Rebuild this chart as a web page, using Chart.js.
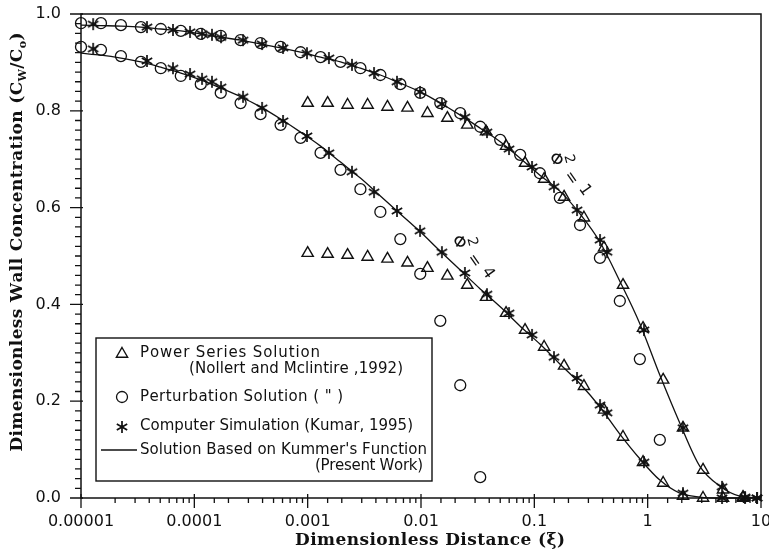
<!DOCTYPE html>
<html>
<head>
<meta charset="utf-8">
<script src="https://cdn.jsdelivr.net/npm/chart.js@4.4.1/dist/chart.umd.min.js"></script>
<style>
  html, body { margin: 0; padding: 0; background: #fff; }
  #wrap { width: 769px; height: 553px; }
</style>
</head>
<body>
<div id="wrap"><canvas id="wallChart"></canvas></div>
<script>
// ---- values ----
// x grid used by the Kummer curves and the perturbation points
const xiGrid = [1e-5, 1.5e-5, 2.25e-5, 3.38e-5, 5.06e-5, 7.6e-5, 1.14e-4, 1.71e-4, 2.56e-4, 3.84e-4,
  5.77e-4, 8.65e-4, 1.3e-3, 1.95e-3, 2.92e-3, 4.38e-3, 6.57e-3, 9.85e-3, 0.0148, 0.0222,
  0.0333, 0.05, 0.075, 0.112, 0.168, 0.253, 0.379, 0.568, 0.853, 1.28,
  1.92, 2.88, 4.32, 6.49, 10];

// Solution based on Kummer's function (phi^2 = 1 and phi^2 = 4)
const kummer1 = [0.977, 0.976, 0.975, 0.973, 0.969, 0.965, 0.959, 0.952, 0.946, 0.938,
  0.930, 0.921, 0.911, 0.901, 0.888, 0.874, 0.857, 0.839, 0.816, 0.791,
  0.764, 0.736, 0.702, 0.667, 0.634, 0.587, 0.529, 0.448, 0.360, 0.254,
  0.155, 0.066, 0.025, 0.004, 0.0];
const kummer4 = [0.919, 0.915, 0.909, 0.901, 0.890, 0.878, 0.864, 0.847, 0.829, 0.808,
  0.783, 0.756, 0.727, 0.694, 0.661, 0.624, 0.587, 0.550, 0.510, 0.471,
  0.432, 0.395, 0.355, 0.318, 0.277, 0.236, 0.188, 0.132, 0.081, 0.037,
  0.010, 0.002, 0.0, 0.0, 0.0];

// Perturbation solution (first 30 / 21 grid points)
const pert1 = [0.981, 0.981, 0.977, 0.973, 0.969, 0.965, 0.959, 0.955, 0.946, 0.940,
  0.932, 0.921, 0.911, 0.901, 0.888, 0.874, 0.855, 0.837, 0.816, 0.795,
  0.767, 0.740, 0.709, 0.671, 0.620, 0.564, 0.496, 0.407, 0.287, 0.120];
const pert4 = [0.932, 0.926, 0.913, 0.901, 0.888, 0.872, 0.855, 0.837, 0.816, 0.793,
  0.771, 0.744, 0.713, 0.678, 0.638, 0.591, 0.535, 0.463, 0.366, 0.233, 0.043];

// Power series solution (Nollert and McIntire, 1992)
const xiSeries = [0.001, 0.0015, 0.00225, 0.00338, 0.00506, 0.0076, 0.0114, 0.0171, 0.0256, 0.0375,
  0.0563, 0.0828, 0.122, 0.183, 0.274, 0.412, 0.606, 0.91, 1.37, 2.05, 3.08, 4.62, 6.94];
const series1 = [0.816, 0.816, 0.812, 0.812, 0.808, 0.806, 0.795, 0.785, 0.771, 0.757,
  0.727, 0.692, 0.659, 0.622, 0.579, 0.517, 0.440, 0.351, 0.244, 0.145, 0.058, 0.017, 0.002];
const series4 = [0.506, 0.504, 0.502, 0.498, 0.494, 0.486, 0.475, 0.459, 0.440, 0.415,
  0.382, 0.347, 0.312, 0.273, 0.231, 0.182, 0.126, 0.074, 0.031, 0.004, 0.0, 0.0, 0.0];

// Computer simulation (Kumar, 1995)
const xiSim = [1.28e-5, 3.82e-5, 6.48e-5, 9.16e-5, 1.17e-4, 1.43e-4, 1.72e-4, 2.69e-4, 3.96e-4, 6.06e-4,
  9.86e-4, 1.54e-3, 2.46e-3, 3.85e-3, 6.14e-3, 9.8e-3, 0.0153, 0.0244, 0.0382, 0.0598,
  0.0954, 0.149, 0.238, 0.38, 0.438, 0.928, 2.05, 4.53, 7.23, 9.23];
const sim1 = [0.979, 0.973, 0.967, 0.963, 0.959, 0.957, 0.952, 0.946, 0.938, 0.930,
  0.919, 0.909, 0.895, 0.878, 0.860, 0.839, 0.814, 0.787, 0.756, 0.721,
  0.684, 0.643, 0.595, 0.533, 0.508, 0.347, 0.145, 0.023, 0.002, 0.0];
const sim4 = [0.928, 0.903, 0.888, 0.876, 0.866, 0.860, 0.849, 0.829, 0.806, 0.779,
  0.748, 0.713, 0.674, 0.632, 0.593, 0.552, 0.508, 0.465, 0.421, 0.382,
  0.337, 0.291, 0.248, 0.192, 0.176, 0.074, 0.010, 0.0, 0.0, 0.0];

const xTickLabels = ['0.00001', '0.0001', '0.001', '0.01', '0.1', '1', '10'];
const yTickLabels = ['0.0', '0.2', '0.4', '0.6', '0.8', '1.0'];

// curve labels, anchored in data coordinates
const phiLabels = [
  { xi: 0.155, c: 0.698, value: '1' },
  { xi: 0.0216, c: 0.527, value: '4' }
];

const ink = '#111';
const toPoints = (xs, ys) => ys.map((y, i) => ({ x: xs[i], y: y }));

// six armed asterisk used for the simulation points
const makeStar = (size, lw) => {
  const c = document.createElement('canvas');
  c.width = c.height = size + 4;
  const g = c.getContext('2d');
  const m = c.width / 2, r = size / 2;
  g.strokeStyle = ink;
  g.lineWidth = lw;
  g.beginPath();
  for (let i = 0; i < 3; i++) {
    const a = Math.PI / 2 + i * Math.PI / 3;
    g.moveTo(m + r * Math.cos(a), m + r * Math.sin(a));
    g.lineTo(m - r * Math.cos(a), m - r * Math.sin(a));
  }
  g.stroke();
  return c;
};
const starImg = makeStar(12, 1.7);

const isDecade = v => {
  const e = Math.log10(v);
  return Math.abs(e - Math.round(e)) < 1e-6;
};

// draw a string letter by letter so it fills a given width
const drawFitted = (ctx, str, x, y, width, align) => {
  const chars = [...str];
  const widths = chars.map(ch => ctx.measureText(ch).width);
  const total = widths.reduce((a, b) => a + b, 0);
  const gap = chars.length > 1 ? (width - total) / (chars.length - 1) : 0;
  let cx = align === 'right' ? x - width : align === 'center' ? x - width / 2 : x;
  ctx.textAlign = 'left';
  chars.forEach((ch, i) => { ctx.fillText(ch, cx, y); cx += widths[i] + gap; });
};

const decorations = {
  id: 'decorations',
  afterDraw(chart) {
    const ctx = chart.ctx;
    const area = chart.chartArea;
    const xs = chart.scales.x, ys = chart.scales.y;
    ctx.save();
    ctx.strokeStyle = ink;
    ctx.fillStyle = ink;

    // frame
    ctx.lineWidth = 1.5;
    ctx.strokeRect(area.left, area.top, area.right - area.left, area.bottom - area.top);

    // tick marks
    ctx.lineWidth = 1.3;
    ctx.beginPath();
    xs.ticks.forEach(t => {
      const p = xs.getPixelForValue(t.value);
      const major = isDecade(t.value);
      ctx.moveTo(p, area.bottom - (major ? 4 : 0));
      ctx.lineTo(p, area.bottom + (major ? 10 : 5));
    });
    ys.ticks.forEach((t, i) => {
      const p = ys.getPixelForValue(t.value);
      const major = i % 10 === 0;
      ctx.moveTo(area.left + (major ? 2 : 0), p);
      ctx.lineTo(area.left - (major ? 11 : 6), p);
    });
    ctx.stroke();

    // axis titles
    ctx.textBaseline = 'middle';
    ctx.font = 'bold 17px "DejaVu Serif"';
    drawFitted(ctx, 'Dimensionless Distance (\u03BE)', 430, 541, 270, 'center');

    const pieces = [
      { t: 'Dimensionless Wall Concentration (C', sub: false },
      { t: 'W', sub: true },
      { t: '/C', sub: false },
      { t: 'o', sub: true },
      { t: ')', sub: false }
    ];
    const mainFont = 'bold 17px "DejaVu Serif"', subFont = 'bold 11px "DejaVu Serif"';
    let natural = 0, count = 0;
    pieces.forEach(pc => {
      ctx.font = pc.sub ? subFont : mainFont;
      [...pc.t].forEach(ch => { natural += ctx.measureText(ch).width; count++; });
    });
    const yGap = (419 - natural) / (count - 1);
    ctx.save();
    ctx.translate(18, 242);
    ctx.rotate(-Math.PI / 2);
    let cx = -419 / 2;
    ctx.textAlign = 'left';
    pieces.forEach(pc => {
      ctx.font = pc.sub ? subFont : mainFont;
      [...pc.t].forEach(ch => {
        ctx.fillText(ch, cx, pc.sub ? 5 : 0);
        cx += ctx.measureText(ch).width + yGap;
      });
    });
    ctx.restore();

    // phi^2 labels next to the curves
    phiLabels.forEach(lb => {
      const px = xs.getPixelForValue(lb.xi);
      const py = ys.getPixelForValue(lb.c);
      const glyph = (str, dx, dy, ang, font) => {
        ctx.save();
        ctx.translate(px + dx, py + dy);
        ctx.rotate(ang * Math.PI / 180);
        ctx.font = font;
        ctx.textAlign = 'center';
        ctx.textBaseline = 'middle';
        ctx.fillText(str, 0, 0);
        ctx.restore();
      };
      glyph('\u03A6', 0, 0, 35, '17px "DejaVu Sans"');
      glyph('2', 13, -1, 75, '14px "DejaVu Sans"');
      glyph('=', 15, 18, 55, '16px "DejaVu Sans"');
      glyph(lb.value, 29, 30, 55, '16px "DejaVu Sans"');
    });

    // legend box
    ctx.lineWidth = 1.4;
    ctx.strokeRect(96, 338, 336, 143);
    ctx.font = '15px "DejaVu Sans"';
    ctx.textBaseline = 'middle';
    drawFitted(ctx, 'Power Series Solution', 140, 353, 180, 'left');
    drawFitted(ctx, '(Nollert and Mclintire ,1992)', 189, 369, 214, 'left');
    drawFitted(ctx, 'Perturbation Solution ( " )', 140, 397, 203, 'left');
    drawFitted(ctx, 'Computer Simulation (Kumar, 1995)', 140, 426, 273, 'left');
    drawFitted(ctx, "Solution Based on Kummer's Function", 140, 450, 287, 'left');
    drawFitted(ctx, '(Present Work)', 423, 466, 108, 'right');

    ctx.lineWidth = 1.4;
    ctx.beginPath();
    const tr = 6.5, tx = 122, ty = 354;
    for (let k = 0; k < 3; k++) {
      const a = -Math.PI / 2 + k * 2 * Math.PI / 3;
      const vx = tx + tr * Math.cos(a), vy = ty + tr * Math.sin(a);
      if (k === 0) ctx.moveTo(vx, vy); else ctx.lineTo(vx, vy);
    }
    ctx.closePath();
    ctx.stroke();
    ctx.lineWidth = 1.3;
    ctx.beginPath();
    ctx.arc(122, 397, 5.5, 0, Math.PI * 2);
    ctx.stroke();
    ctx.drawImage(starImg, 122 - starImg.width / 2, 427 - starImg.height / 2);
    ctx.beginPath();
    ctx.moveTo(101, 450);
    ctx.lineTo(137, 450);
    ctx.stroke();

    ctx.restore();
  }
};

const lineStyle = {
  showLine: true, pointRadius: 0, borderColor: ink, borderWidth: 1.3,
  cubicInterpolationMode: 'monotone', clip: false
};
const circleStyle = {
  pointStyle: 'circle', pointRadius: 5.5, borderColor: ink, borderWidth: 1.3,
  backgroundColor: 'rgba(0,0,0,0)', clip: false
};
const triStyle = {
  pointStyle: 'triangle', pointRadius: 6.5, borderColor: ink, borderWidth: 1.4,
  backgroundColor: 'rgba(0,0,0,0)', clip: false
};
const starStyle = { pointStyle: starImg, pointRadius: 6, borderColor: ink, clip: false };

const ctx = document.getElementById('wallChart').getContext('2d');
new Chart(ctx, {
  type: 'scatter',
  data: {
    datasets: [
      { label: 'Kummer phi2=1', data: toPoints(xiGrid, kummer1), ...lineStyle },
      { label: 'Kummer phi2=4', data: toPoints(xiGrid, kummer4), ...lineStyle },
      { label: 'Perturbation phi2=1', data: toPoints(xiGrid, pert1), ...circleStyle },
      { label: 'Perturbation phi2=4', data: toPoints(xiGrid, pert4), ...circleStyle },
      { label: 'Power series phi2=1', data: toPoints(xiSeries, series1), ...triStyle },
      { label: 'Power series phi2=4', data: toPoints(xiSeries, series4), ...triStyle },
      { label: 'Simulation phi2=1', data: toPoints(xiSim, sim1), ...starStyle },
      { label: 'Simulation phi2=4', data: toPoints(xiSim, sim4), ...starStyle }
    ]
  },
  options: {
    responsive: true,
    maintainAspectRatio: false,
    animation: false,
    devicePixelRatio: 1,
    layout: { padding: { top: 14, right: 8, left: 0, bottom: 0 } },
    plugins: { legend: { display: false }, tooltip: { enabled: false } },
    scales: {
      x: {
        type: 'logarithmic',
        min: 1e-5,
        max: 10,
        grid: { display: false, drawTicks: false },
        border: { display: false },
        ticks: {
          autoSkip: false,
          maxRotation: 0,
          padding: 14,
          color: ink,
          font: { family: 'DejaVu Sans', size: 16 },
          callback: v => isDecade(v) ? xTickLabels[Math.round(Math.log10(v)) + 5] : ''
        },
        afterFit: s => { s.height = 55; s.paddingLeft = 0; s.paddingRight = 0; }
      },
      y: {
        min: 0,
        max: 1,
        grid: { display: false, drawTicks: false },
        border: { display: false },
        ticks: {
          stepSize: 0.02,
          autoSkip: false,
          padding: 20,
          color: ink,
          font: { family: 'DejaVu Sans', size: 16 },
          callback: (v, i) => i % 10 === 0 ? yTickLabels[i / 10] : ''
        },
        afterFit: s => { s.width = 81; s.paddingTop = 0; s.paddingBottom = 0; }
      }
    }
  },
  plugins: [decorations]
});
</script>
</body>
</html>
